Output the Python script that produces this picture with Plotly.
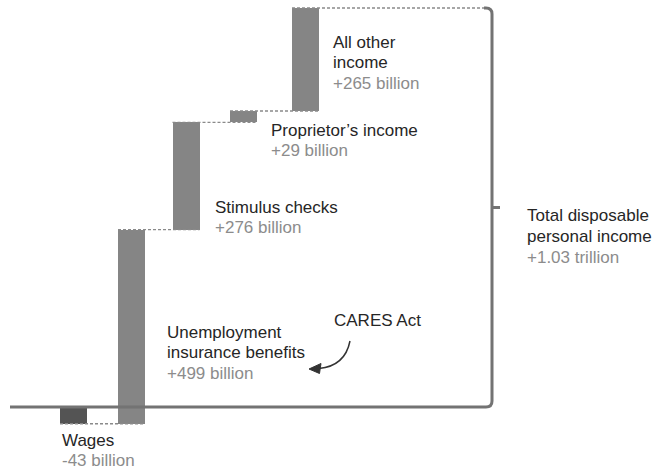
import plotly.graph_objects as go

# Change in disposable personal income by component (billions of dollars)
categories = [["Wages"], ["Unemployment", "insurance benefits"], ["Stimulus checks"],
              ["Proprietor’s income"], ["All other", "income"]]
changes = [-43, 499, 276, 29, 265]
value_labels = ["-43 billion", "+499 billion", "+276 billion", "+29 billion", "+265 billion"]
total_name = ["Total disposable", "personal income"]
total_label = "+1.03 trillion"
note_text = "CARES Act"

# Canvas / layout settings
W, H = 652, 469
BASE_PX, TOP_PX = 407, 8            # vertical pixel rows of 0 and of the total
bar_centers = [73.5, 131.5, 186, 243.5, 305.5]
bar_width = 27
bracket_x = 492
label_pos = [(60, 433), (165, 325), (213, 200), (269, 123), (331, 35)]   # left, cap top
total_pos = (525, 209)
note_pos = (332, 313)
FONT_SIZE = 17
LINE_STEP = 20.6

NAME_COLOR = "#262626"
VALUE_COLOR = "#8c8c8c"
BAR_NEG = "#545454"
BAR_POS = "#858585"
AXIS_COLOR = "#737373"
DASH_COLOR = "#8a8a8a"
FONT = "Liberation Sans, Arial, sans-serif"

total = sum(changes)
ends, bases, run = [], [], 0
for v in changes:
    bases.append(run)
    run += v
    ends.append(run)

scale = (BASE_PX - TOP_PX) / total
y_top = BASE_PX / scale
y_bot = -(H - BASE_PX) / scale

fig = go.Figure()

# dashed connectors spanning from each bar to the far edge of the next one
cx, cy = [], []
half = bar_width / 2
for i in range(len(changes) - 1):
    cx += [bar_centers[i] - half, bar_centers[i + 1] + half, None]
    cy += [ends[i], ends[i], None]
cx += [bar_centers[-1] - half, bracket_x - 5]
cy += [total, total]
fig.add_trace(go.Scatter(x=cx, y=cy, mode="lines", hoverinfo="skip",
                         line=dict(color=DASH_COLOR, width=1.4, dash="3px,2px")))

fig.add_trace(go.Bar(
    x=bar_centers, y=changes, base=bases, width=bar_width,
    marker=dict(color=[BAR_NEG if v < 0 else BAR_POS for v in changes], line_width=0),
    hoverinfo="skip",
))

# baseline joined to the bracket around the total
ry = 6 / scale
bracket_path = (f"M {bracket_x - 8} {total} L {bracket_x - 6} {total} "
                f"Q {bracket_x} {total} {bracket_x} {total - ry} "
                f"L {bracket_x} {ry} Q {bracket_x} 0 {bracket_x - 6} 0 L 10 0")
shapes = [
    dict(type="path", xref="x", yref="y", path=bracket_path,
         line=dict(color=AXIS_COLOR, width=3), layer="above"),
    dict(type="line", xref="x", yref="y", x0=bracket_x, x1=bracket_x + 8,
         y0=total / 2, y1=total / 2, line=dict(color=AXIS_COLOR, width=3)),
]


def pp(x, y):
    return x / W, 1 - y / H


# curved pointer for the CARES Act note
(ax0, ay0), (acx, acy), (ax1, ay1) = pp(350, 341), pp(345, 366), pp(319, 368.5)
shapes.append(dict(type="path", xref="paper", yref="paper",
                   path=f"M {ax0} {ay0} Q {acx} {acy} {ax1} {ay1}",
                   line=dict(color="#333333", width=1.5)))
(t0x, t0y), (t1x, t1y), (t2x, t2y) = pp(309, 369), pp(321, 363.5), pp(319.5, 373.5)
shapes.append(dict(type="path", xref="paper", yref="paper",
                   path=f"M {t0x} {t0y} L {t1x} {t1y} L {t2x} {t2y} Z",
                   fillcolor="#333333", line=dict(color="#333333", width=1)))

annotations = []


def label(pos, name_lines, value):
    lines = [(t, NAME_COLOR) for t in name_lines]
    if value is not None:
        lines.append((value, VALUE_COLOR))
    left, cap_top = pos
    for k, (txt, col) in enumerate(lines):
        x, y = pp(left, cap_top - 4.5 + k * LINE_STEP)
        annotations.append(dict(x=x, y=y, xref="paper", yref="paper", xanchor="left",
                                yanchor="top", align="left", showarrow=False, text=txt,
                                font=dict(family=FONT, size=FONT_SIZE, color=col)))


for pos, name, val in zip(label_pos, categories, value_labels):
    label(pos, name, val)
label(total_pos, total_name, total_label)
label(note_pos, [note_text], None)

fig.update_layout(
    width=W, height=H, margin=dict(l=0, r=0, t=0, b=0),
    paper_bgcolor="white", plot_bgcolor="white", showlegend=False,
    xaxis=dict(range=[0, W], visible=False, fixedrange=True),
    yaxis=dict(range=[y_bot, y_top], visible=False, fixedrange=True),
    shapes=shapes, annotations=annotations, bargap=0,
)

fig.write_html("out.html")
